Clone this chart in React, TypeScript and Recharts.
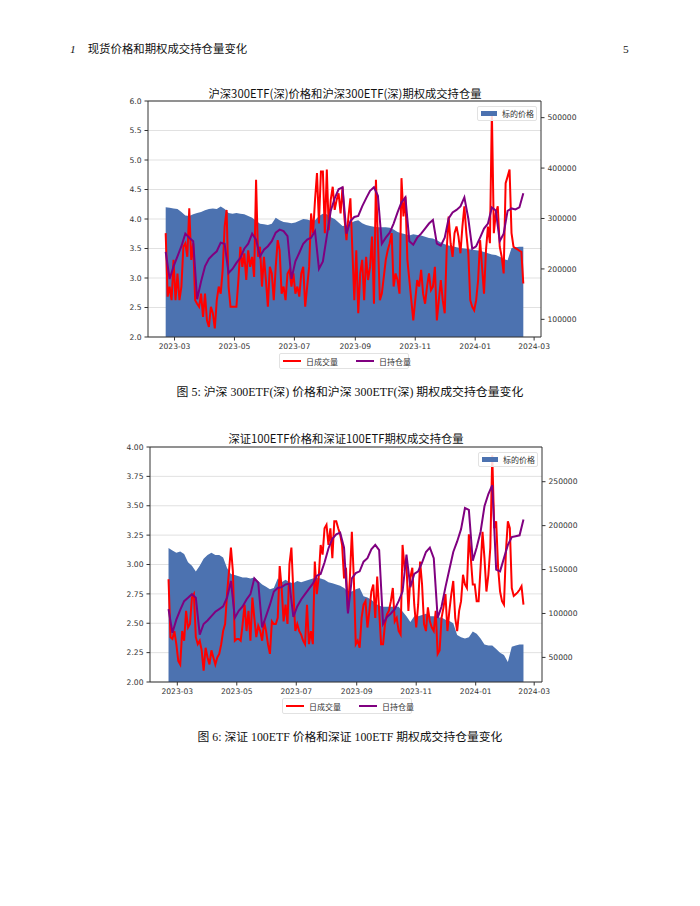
import { ComposedChart, Area, Line, XAxis, YAxis, CartesianGrid, ReferenceLine } from "recharts";

// sample dates, every 2 days; price and open interest are read at every other date
const dates = [
  "2023-02-20", "2023-02-22", "2023-02-24", "2023-02-26", "2023-02-28",
  "2023-03-02", "2023-03-04", "2023-03-06", "2023-03-08", "2023-03-10", "2023-03-12", "2023-03-14", "2023-03-16", "2023-03-18", "2023-03-20", "2023-03-22", "2023-03-24", "2023-03-26", "2023-03-28", "2023-03-30",
  "2023-04-01", "2023-04-03", "2023-04-05", "2023-04-07", "2023-04-09", "2023-04-11", "2023-04-13", "2023-04-15", "2023-04-17", "2023-04-19", "2023-04-21", "2023-04-23", "2023-04-25", "2023-04-27", "2023-04-29",
  "2023-05-01", "2023-05-03", "2023-05-05", "2023-05-07", "2023-05-09", "2023-05-11", "2023-05-13", "2023-05-15", "2023-05-17", "2023-05-19", "2023-05-21", "2023-05-23", "2023-05-25", "2023-05-27", "2023-05-29", "2023-05-31",
  "2023-06-02", "2023-06-04", "2023-06-06", "2023-06-08", "2023-06-10", "2023-06-12", "2023-06-14", "2023-06-16", "2023-06-18", "2023-06-20", "2023-06-22", "2023-06-24", "2023-06-26", "2023-06-28", "2023-06-30",
  "2023-07-02", "2023-07-04", "2023-07-06", "2023-07-08", "2023-07-10", "2023-07-12", "2023-07-14", "2023-07-16", "2023-07-18", "2023-07-20", "2023-07-22", "2023-07-24", "2023-07-26", "2023-07-28", "2023-07-30",
  "2023-08-01", "2023-08-03", "2023-08-05", "2023-08-07", "2023-08-09", "2023-08-11", "2023-08-13", "2023-08-15", "2023-08-17", "2023-08-19", "2023-08-21", "2023-08-23", "2023-08-25", "2023-08-27", "2023-08-29", "2023-08-31",
  "2023-09-02", "2023-09-04", "2023-09-06", "2023-09-08", "2023-09-10", "2023-09-12", "2023-09-14", "2023-09-16", "2023-09-18", "2023-09-20", "2023-09-22", "2023-09-24", "2023-09-26", "2023-09-28", "2023-09-30",
  "2023-10-02", "2023-10-04", "2023-10-06", "2023-10-08", "2023-10-10", "2023-10-12", "2023-10-14", "2023-10-16", "2023-10-18", "2023-10-20", "2023-10-22", "2023-10-24", "2023-10-26", "2023-10-28", "2023-10-30",
  "2023-11-01", "2023-11-03", "2023-11-05", "2023-11-07", "2023-11-09", "2023-11-11", "2023-11-13", "2023-11-15", "2023-11-17", "2023-11-19", "2023-11-21", "2023-11-23", "2023-11-25", "2023-11-27", "2023-11-29",
  "2023-12-01", "2023-12-03", "2023-12-05", "2023-12-07", "2023-12-09", "2023-12-11", "2023-12-13", "2023-12-15", "2023-12-17", "2023-12-19", "2023-12-21", "2023-12-23", "2023-12-25", "2023-12-27", "2023-12-29", "2023-12-31",
  "2024-01-02", "2024-01-04", "2024-01-06", "2024-01-08", "2024-01-10", "2024-01-12", "2024-01-14", "2024-01-16", "2024-01-18", "2024-01-20", "2024-01-22", "2024-01-24", "2024-01-26", "2024-01-28", "2024-01-30",
  "2024-02-01", "2024-02-03", "2024-02-05", "2024-02-07", "2024-02-09", "2024-02-11", "2024-02-13", "2024-02-15", "2024-02-17", "2024-02-19",
];

// 沪深300ETF(深): price every 4 days
const price300 = [
  4.2, 4.19, 4.18, 4.17, 4.12, 4.06, 4.05, 4.08, 4.1, 4.12,
  4.15, 4.17, 4.18, 4.17, 4.21, 4.17, 4.1, 4.09, 4.1, 4.09,
  4.08, 4.05, 4.02, 3.97, 3.92, 3.91, 3.9, 3.92, 4.02, 3.98,
  3.95, 3.94, 3.93, 3.94, 3.97, 4.0, 3.99, 3.97, 3.98, 4.05,
  4.09, 4.08, 4.03, 4.0, 3.94, 3.88, 3.89, 3.93, 3.96, 3.98,
  3.93, 3.9, 3.88, 3.87, 3.86, 3.86, 3.86, 3.85, 3.82, 3.78,
  3.76, 3.74, 3.72, 3.74, 3.73, 3.72, 3.7, 3.68, 3.67, 3.64,
  3.6, 3.57, 3.55, 3.54, 3.52, 3.51, 3.5, 3.49, 3.48, 3.47,
  3.46, 3.44, 3.42, 3.4, 3.39, 3.36, 3.32, 3.3, 3.51, 3.52,
  3.53, 3.53,
];
// daily volume every 2 days, in thousands
const volume300 = [
  271, 145, 165, 138, 218, 138, 191, 138, 165, 244,
  251, 224, 320, 218, 251, 138, 131, 125, 151, 105,
  151, 98, 85, 125, 112, 82, 138, 165, 151, 198,
  284, 317, 165, 125, 125, 125, 125, 178, 244, 204,
  231, 178, 237, 204, 224, 184, 377, 224, 244, 165,
  224, 178, 125, 204, 191, 138, 204, 257, 237, 151,
  165, 138, 191, 198, 165, 191, 151, 165, 145, 191,
  204, 125, 165, 204, 310, 271, 337, 390, 290, 393,
  393, 271, 397, 277, 337, 363, 317, 337, 350, 310,
  363, 300, 257, 304, 340, 237, 138, 237, 112, 191,
  218, 138, 224, 178, 204, 264, 131, 377, 257, 138,
  151, 184, 218, 237, 251, 271, 165, 191, 178, 151,
  380, 304, 343, 218, 178, 138, 98, 138, 178, 165,
  198, 151, 131, 165, 191, 158, 165, 204, 98, 138,
  178, 138, 112, 237, 304, 251, 224, 271, 284, 264,
  231, 284, 324, 271, 231, 138, 125, 118, 138, 178,
  257, 204, 151, 237, 284, 251, 512, 271, 310, 324,
  244, 224, 191, 370, 383, 397, 271, 244, 241, 239,
  236, 234, 171,
];
// open interest every 4 days, in thousands
const openInt300 = [
  234, 180, 205, 225, 245, 270, 262, 255, 140, 175,
  205, 220, 228, 235, 252, 250, 192, 200, 212, 222,
  240, 250, 270, 258, 225, 238, 245, 255, 272, 278,
  275, 265, 180, 215, 232, 250, 258, 262, 275, 200,
  215, 265, 315, 340, 358, 362, 270, 295, 303, 305,
  324, 340, 355, 362, 345, 250, 262, 272, 290, 312,
  332, 342, 255, 248, 262, 270, 280, 290, 297, 250,
  246, 262, 300, 312, 317, 324, 342, 300, 240, 245,
  262, 280, 290, 322, 316, 255, 270, 315, 320, 318,
  322, 350,
];

// 深证100ETF
const price100 = [
  3.14, 3.12, 3.1, 3.11, 3.09, 3.02, 2.99, 2.94, 2.99, 3.05,
  3.08, 3.1, 3.08, 3.08, 3.06, 2.97, 2.92, 2.91, 2.9, 2.89,
  2.89, 2.88, 2.89, 2.86, 2.83, 2.81, 2.79, 2.8, 2.88, 2.85,
  2.87, 2.85, 2.84, 2.86, 2.85, 2.86, 2.87, 2.88, 2.89, 2.88,
  2.87, 2.85, 2.84, 2.83, 2.82, 2.8, 2.77, 2.77, 2.79, 2.8,
  2.73, 2.72, 2.7, 2.67, 2.65, 2.64, 2.64, 2.64, 2.64, 2.64,
  2.6, 2.56, 2.51, 2.56, 2.56, 2.57, 2.58, 2.56, 2.56, 2.55,
  2.55, 2.53, 2.52, 2.5, 2.4, 2.38, 2.37, 2.38, 2.43, 2.41,
  2.37, 2.32, 2.31, 2.31, 2.28, 2.25, 2.23, 2.17, 2.3, 2.31,
  2.32, 2.32,
];
const volume100 = [
  139, 73, 71, 80, 65, 46, 42, 80, 69, 103,
  84, 88, 118, 122, 73, 65, 69, 58, 35, 61,
  50, 42, 58, 50, 42, 50, 54, 65, 80, 88,
  122, 148, 175, 148, 69, 71, 71, 69, 88, 110,
  80, 103, 69, 118, 95, 73, 86, 80, 69, 91,
  80, 65, 54, 91, 88, 88, 95, 154, 129, 91,
  110, 88, 156, 175, 125, 80, 88, 80, 76, 69,
  65, 110, 65, 80, 65, 159, 122, 141, 178, 167,
  197, 201, 178, 197, 163, 205, 205, 197, 190, 178,
  140, 152, 103, 141, 193, 141, 65, 69, 61, 95,
  110, 114, 84, 103, 125, 133, 95, 142, 103, 65,
  65, 88, 99, 103, 114, 129, 91, 95, 80, 76,
  178, 152, 156, 103, 141, 152, 110, 84, 110, 159,
  133, 88, 80, 107, 91, 84, 80, 103, 54, 58,
  95, 107, 122, 80, 103, 122, 137, 95, 80, 103,
  114, 144, 133, 129, 190, 163, 133, 133, 114, 114,
  152, 193, 163, 125, 144, 175, 280, 197, 205, 152,
  125, 114, 110, 171, 205, 197, 129, 120, 122, 124,
  127, 131, 110,
];
const openInt100 = [
  105, 78, 93, 104, 114, 118, 122, 118, 76, 88,
  92, 97, 102, 105, 108, 118, 137, 95, 103, 108,
  116, 122, 140, 135, 84, 97, 110, 125, 129, 130,
  133, 134, 96, 108, 116, 122, 128, 134, 143, 145,
  158, 174, 185, 190, 192, 175, 100, 140, 146, 148,
  159, 163, 173, 178, 172, 88, 96, 100, 105, 114,
  125, 167, 130, 145, 148, 158, 170, 175, 163, 95,
  108, 130, 150, 170, 182, 196, 220, 218, 160, 175,
  193, 222, 236, 246, 150, 148, 163, 178, 187, 188,
  189, 207,
];

const monthTicks = ["2023-03-01", "2023-05-01", "2023-07-01", "2023-09-01", "2023-11-01", "2024-01-01", "2024-03-01"];
const priceTicks300 = [2, 2.5, 3, 3.5, 4, 4.5, 5, 5.5, 6];
const volTicks300 = [100, 200, 300, 400, 500];
const priceTicks100 = [2, 2.25, 2.5, 2.75, 3, 3.25, 3.5, 3.75, 4];
const volTicks100 = [50, 100, 150, 200, 250];

const ts = (s: string) => Date.parse(s + "T00:00:00Z");
const fmtMonth = (v: number) => new Date(v).toISOString().slice(0, 7);

const BLUE = "#4c72b0";
const RED = "#ff0000";
const PURPLE = "#800080";
const AXIS = "#333";
const CJK = "'Noto Sans CJK SC', sans-serif";
const SERIF = "'Liberation Serif', 'Noto Sans CJK SC', serif";
const tickStyle = { fontSize: 7.6, fill: "#333", fontFamily: "'DejaVu Sans', sans-serif" };

function rowsOf(price: number[], vol: number[], oi: number[]) {
  return dates.map((d, j) => ({
    t: ts(d),
    price: j % 2 === 0 ? price[j / 2] : null,
    vol: vol[j],
    oi: j % 2 === 0 ? oi[j / 2] : null,
  }));
}

type ChartProps = {
  rows: any[];
  left: number;
  top: number;
  width: number;
  height: number;
  xDomain: [number, number];
  priceDomain: [number, number];
  priceTicks: number[];
  digits: number;
  volDomain: [number, number];
  volTicks: number[];
};

function EtfChart(p: ChartProps) {
  return (
    <div style={{ position: "absolute", left: p.left, top: p.top }}>
      <ComposedChart width={p.width} height={p.height} data={p.rows} margin={{ top: 5, right: 0, bottom: 0, left: 0 }}>
        <CartesianGrid yAxisId="price" vertical={false} stroke="#d9d9d9" strokeWidth={0.8} />
        <XAxis
          dataKey="t"
          type="number"
          domain={p.xDomain}
          ticks={monthTicks.map(ts)}
          tickFormatter={fmtMonth}
          height={25}
          tickSize={3.5}
          tickMargin={3}
          axisLine={{ stroke: AXIS }}
          tickLine={{ stroke: AXIS }}
          tick={tickStyle}
          allowDataOverflow
        />
        <YAxis
          yAxisId="price"
          domain={p.priceDomain}
          ticks={p.priceTicks}
          tickFormatter={(v: number) => v.toFixed(p.digits)}
          width={50}
          tickSize={3.5}
          tickMargin={3}
          axisLine={{ stroke: AXIS }}
          tickLine={{ stroke: AXIS }}
          tick={tickStyle}
          allowDataOverflow
        />
        <YAxis
          yAxisId="vol"
          orientation="right"
          domain={p.volDomain}
          ticks={p.volTicks}
          tickFormatter={(v: number) => String(v * 1000)}
          width={60}
          tickSize={3.5}
          tickMargin={3}
          axisLine={{ stroke: AXIS }}
          tickLine={{ stroke: AXIS }}
          tick={tickStyle}
          allowDataOverflow
        />
        <Area yAxisId="price" dataKey="price" type="linear" stroke="none" fill={BLUE} fillOpacity={1} connectNulls isAnimationActive={false} />
        <Line yAxisId="vol" dataKey="vol" type="linear" stroke={RED} strokeWidth={2} dot={false} isAnimationActive={false} />
        <Line yAxisId="vol" dataKey="oi" type="linear" stroke={PURPLE} strokeWidth={2} dot={false} connectNulls isAnimationActive={false} />
        <ReferenceLine yAxisId="price" y={p.priceDomain[1]} stroke={AXIS} />
      </ComposedChart>
    </div>
  );
}

function PriceLegend({ left, top }: { left: number; top: number }) {
  return (
    <div
      style={{
        position: "absolute", left, top, width: 60, height: 15, boxSizing: "border-box",
        border: "1px solid #e2e2e2", borderRadius: 2, background: "rgba(255,255,255,0.85)",
        fontFamily: CJK, fontSize: 8, color: "#333", whiteSpace: "nowrap",
      }}
    >
      <span style={{ position: "absolute", left: 3, top: 4, width: 16, height: 5, background: BLUE }} />
      <span style={{ position: "absolute", left: 24, top: 0, lineHeight: "13px" }}>标的价格</span>
    </div>
  );
}

function LineLegend({ left, top }: { left: number; top: number }) {
  const item = (color: string, label: string, x: number) => (
    <>
      <span style={{ position: "absolute", left: x, top: 6, width: 18, height: 2, background: color }} />
      <span style={{ position: "absolute", left: x + 23, top: 0, lineHeight: "15px" }}>{label}</span>
    </>
  );
  return (
    <div
      style={{
        position: "absolute", left, top, width: 130, height: 16, boxSizing: "border-box",
        border: "1px solid #e2e2e2", borderRadius: 2, background: "#fff",
        fontFamily: CJK, fontSize: 8, color: "#333", whiteSpace: "nowrap",
      }}
    >
      {item(RED, "日成交量", 3)}
      {item(PURPLE, "日持仓量", 76)}
    </div>
  );
}

function Centered({ y, size, font, children }: { y: number; size: number; font: string; children: any }) {
  return (
    <div
      style={{
        position: "absolute", left: 0, width: 700, top: y - 10, lineHeight: "20px",
        textAlign: "center", fontSize: size, fontFamily: font, color: "#111", whiteSpace: "nowrap",
      }}
    >
      {children}
    </div>
  );
}

export default function App() {
  const rows300 = rowsOf(price300, volume300, openInt300);
  const rows100 = rowsOf(price100, volume100, openInt100);
  return (
    <div style={{ position: "absolute", left: 0, top: 0, width: 700, height: 906, background: "#fff", overflow: "hidden" }}>
      <div style={{ position: "absolute", left: 70, top: 39, lineHeight: "20px", fontFamily: SERIF, fontSize: 11.4, color: "#111", whiteSpace: "nowrap" }}>
        <i>1</i>
        <span style={{ marginLeft: 12 }}>现货价格和期权成交持仓量变化</span>
      </div>
      <div style={{ position: "absolute", left: 623, top: 39, lineHeight: "20px", fontFamily: SERIF, fontSize: 11.4, color: "#111" }}>5</div>

      <div style={{ position: "absolute", left: 0, width: 690, top: 83, lineHeight: "20px", textAlign: "center", fontFamily: CJK, fontSize: 11.3, color: "#111", whiteSpace: "nowrap" }}>
        沪深300ETF(深)价格和沪深300ETF(深)期权成交持仓量
      </div>
      <EtfChart
        rows={rows300}
        left={98}
        top={96}
        width={503}
        height={266}
        xDomain={[ts("2023-02-02"), ts("2024-03-08")]}
        priceDomain={[2, 6]}
        priceTicks={priceTicks300}
        digits={1}
        volDomain={[65, 533]}
        volTicks={volTicks300}
      />
      <PriceLegend left={477} top={106} />
      <LineLegend left={279} top={353} />
      <Centered y={392} size={11.9} font={SERIF}>
        图 5: 沪深 300ETF(深) 价格和沪深 300ETF(深) 期权成交持仓量变化
      </Centered>

      <div style={{ position: "absolute", left: 0, width: 692, top: 428, lineHeight: "20px", textAlign: "center", fontFamily: CJK, fontSize: 11.3, color: "#111", whiteSpace: "nowrap" }}>
        深证100ETF价格和深证100ETF期权成交持仓量
      </div>
      <EtfChart
        rows={rows100}
        left={100}
        top={442}
        width={502}
        height={265}
        xDomain={[ts("2023-02-01"), ts("2024-03-09")]}
        priceDomain={[2, 4]}
        priceTicks={priceTicks100}
        digits={2}
        volDomain={[22, 289.5]}
        volTicks={volTicks100}
      />
      <PriceLegend left={478} top={452} />
      <LineLegend left={282} top={698} />
      <Centered y={737} size={11.8} font={SERIF}>
        图 6: 深证 100ETF 价格和深证 100ETF 期权成交持仓量变化
      </Centered>
    </div>
  );
}
